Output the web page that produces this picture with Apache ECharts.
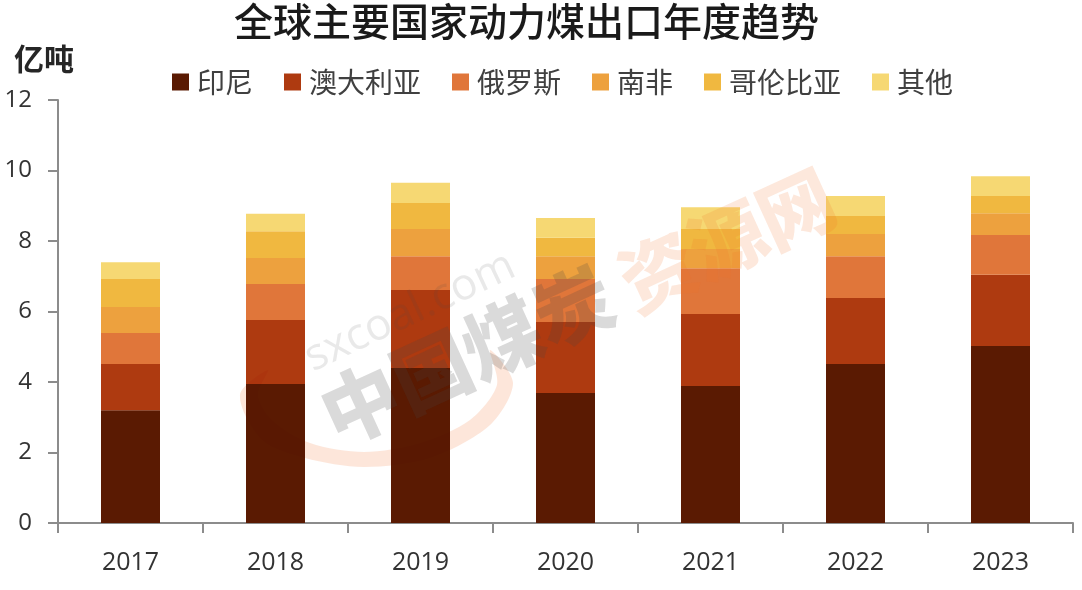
<!DOCTYPE html>
<html lang="zh-CN">
<head>
    <meta charset="UTF-8">
    <title>全球主要国家动力煤出口年度趋势</title>
    <script src="https://cdn.jsdelivr.net/npm/echarts@6/dist/echarts.min.js"></script>
    <style>
        html, body { margin: 0; padding: 0; background: #fff; }
    </style>
</head>
<body>
    <div id="main" style="width: 1082px; height: 590px;"></div>
    <script type="text/javascript">
        // values, in 亿吨
        const years = ['2017', '2018', '2019', '2020', '2021', '2022', '2023'];
        const indonesia = [3.20, 3.94, 4.40, 3.69, 3.89, 4.51, 5.02];
        const australia = [1.31, 1.82, 2.21, 2.01, 2.04, 1.87, 2.02];
        const russia = [0.88, 1.02, 0.96, 1.22, 1.30, 1.19, 1.13];
        const southAfrica = [0.74, 0.74, 0.77, 0.65, 0.54, 0.63, 0.62];
        const colombia = [0.79, 0.76, 0.74, 0.52, 0.57, 0.51, 0.49];
        const others = [0.48, 0.49, 0.57, 0.56, 0.62, 0.57, 0.56];

        const seriesNames = ['印尼', '澳大利亚', '俄罗斯', '南非', '哥伦比亚', '其他'];
        const seriesValues = [indonesia, australia, russia, southAfrica, colombia, others];
        const colors = ['#5A1A02', '#AE3A10', '#E0763A', '#EDA13E', '#F0B840', '#F6D873'];

        const cjk = '"Noto Sans CJK SC", sans-serif';
        const latin = '"Open Sans", sans-serif';
        const axisGray = '#8C8C8C';

        let myChart = echarts.init(document.getElementById('main'));

        const options = {
            animation: false,
            backgroundColor: '#fff',
            title: [
                {
                    text: '全球主要国家动力煤出口年度趋势',
                    left: 229,
                    top: -3,
                    textStyle: { fontFamily: cjk, fontSize: 39, fontWeight: 500, color: '#1a1a1a' }
                },
                {
                    text: '亿吨',
                    left: 9,
                    top: 39,
                    textStyle: { fontFamily: cjk, fontSize: 30, fontWeight: 700, color: '#262626' }
                }
            ],
            legend: {
                left: 167,
                top: 63,
                itemWidth: 17,
                itemHeight: 17,
                itemGap: 31,
                icon: 'rect',
                data: seriesNames,
                textStyle: { fontFamily: cjk, fontSize: 28, color: '#404040', padding: [0, 0, 0, 3] }
            },
            grid: { left: 58, right: 9, top: 100, bottom: 67 },
            xAxis: {
                type: 'category',
                data: years,
                axisLine: { lineStyle: { color: axisGray, width: 2 } },
                axisTick: { show: true, length: 10, lineStyle: { color: axisGray, width: 2 } },
                axisLabel: { fontFamily: latin, fontSize: 25, color: '#333', margin: 27 }
            },
            yAxis: {
                type: 'value',
                min: 0,
                max: 12,
                interval: 2,
                splitLine: { show: false },
                axisLine: { show: true, lineStyle: { color: axisGray, width: 2 } },
                axisTick: { show: true, length: 10, lineStyle: { color: axisGray, width: 2 } },
                axisLabel: { fontFamily: latin, fontSize: 24, color: '#333', margin: 26, padding: [4, 0, 0, 0] }
            },
            series: seriesNames.map((name, i) => ({
                name: name,
                type: 'bar',
                stack: 'total',
                barWidth: 59,
                data: seriesValues[i],
                itemStyle: { color: colors[i] }
            })),
            // faint site watermark lying over the bars
            graphic: [
                {
                    type: 'polygon',
                    z: 100,
                    silent: true,
                    shape: {
                        smooth: 0.3,
                        points: [[268, 370], [240, 395], [262, 440], [305, 458], [364, 467], [430, 458], [490, 425], [513, 383], [490, 350],
                            [497, 385], [470, 420], [420, 443], [364, 452], [310, 443], [272, 420], [258, 395]]
                    },
                    style: { fill: '#FDE6DA', blend: 'multiply' }
                },
                {
                    type: 'text', z: 101, silent: true, x: 410, y: 312, rotation: 0.44,
                    style: { text: 'sxcoal.com', fontFamily: latin, fontSize: 44, fill: 'rgba(70,70,70,0.12)', align: 'center', verticalAlign: 'middle' }
                },
                {
                    type: 'text', z: 101, silent: true, x: 467, y: 355, rotation: 0.43,
                    style: { text: '中国煤炭', fontFamily: cjk, fontSize: 78, fontWeight: 900, fill: 'rgba(70,70,70,0.2)', align: 'center', verticalAlign: 'middle' }
                },
                {
                    type: 'text', z: 101, silent: true, x: 727, y: 240, rotation: 0.43,
                    style: { text: '资源网', fontFamily: cjk, fontSize: 76, fontWeight: 900, fill: 'rgba(240,110,40,0.16)', align: 'center', verticalAlign: 'middle' }
                }
            ]
        };

        myChart.setOption(options);
    </script>
</body>
</html>
